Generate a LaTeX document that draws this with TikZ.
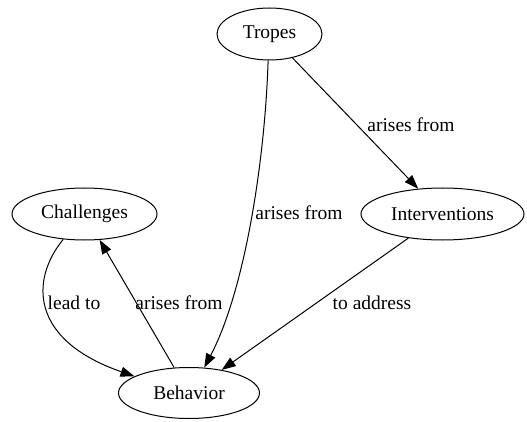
\documentclass[tikz,border=0pt]{standalone}
\usepackage{fontspec}
\setmainfont{Liberation Serif}
\newfontfamily\lblfont{Liberation Serif}
\usetikzlibrary{arrows.meta,shapes.geometric}
\begin{document}
\begin{tikzpicture}[x=1pt,y=-1pt,
  every node/.style={font=\lblfont\fontsize{19.5}{22}\selectfont},
  vert/.style={draw,ellipse,line width=1pt,inner sep=0pt},
  edgelbl/.style={inner sep=0pt},
  conn/.style={line width=1pt,-{Triangle[length=14pt,width=10pt]}}]
\useasboundingbox (0,0) rectangle (527,422);
\node[vert,minimum width=105pt,minimum height=52pt] (Tropes) at (269.5,34) {Tropes};
\node[vert,minimum width=145pt,minimum height=52pt] (Challenges) at (84.5,214) {Challenges};
\node[vert,minimum width=163pt,minimum height=52pt] (Interventions) at (442.5,214) {Interventions};
\node[vert,minimum width=141pt,minimum height=51pt] (Behavior) at (189,393) {Behavior};
\draw[conn] (Tropes) -- (Interventions);
\draw[conn] (Tropes.267) .. controls (265,160) and (245,290) .. (Behavior.59);
\draw[conn] (Interventions) -- (Behavior);
\draw[conn] (Behavior) -- (Challenges);
\draw[conn] (Challenges.230) .. controls (30,280) and (30,340) .. (Behavior.163);
\node[edgelbl] (l1) at (411,125) {arises from};
\node[edgelbl] (l2) at (299,213) {arises from};
\node[edgelbl] (l3) at (372,303) {to address};
\node[edgelbl] (l4) at (74,303) {lead to};
\node[edgelbl] (l5) at (179,303) {arises from};
\end{tikzpicture}
\end{document}
